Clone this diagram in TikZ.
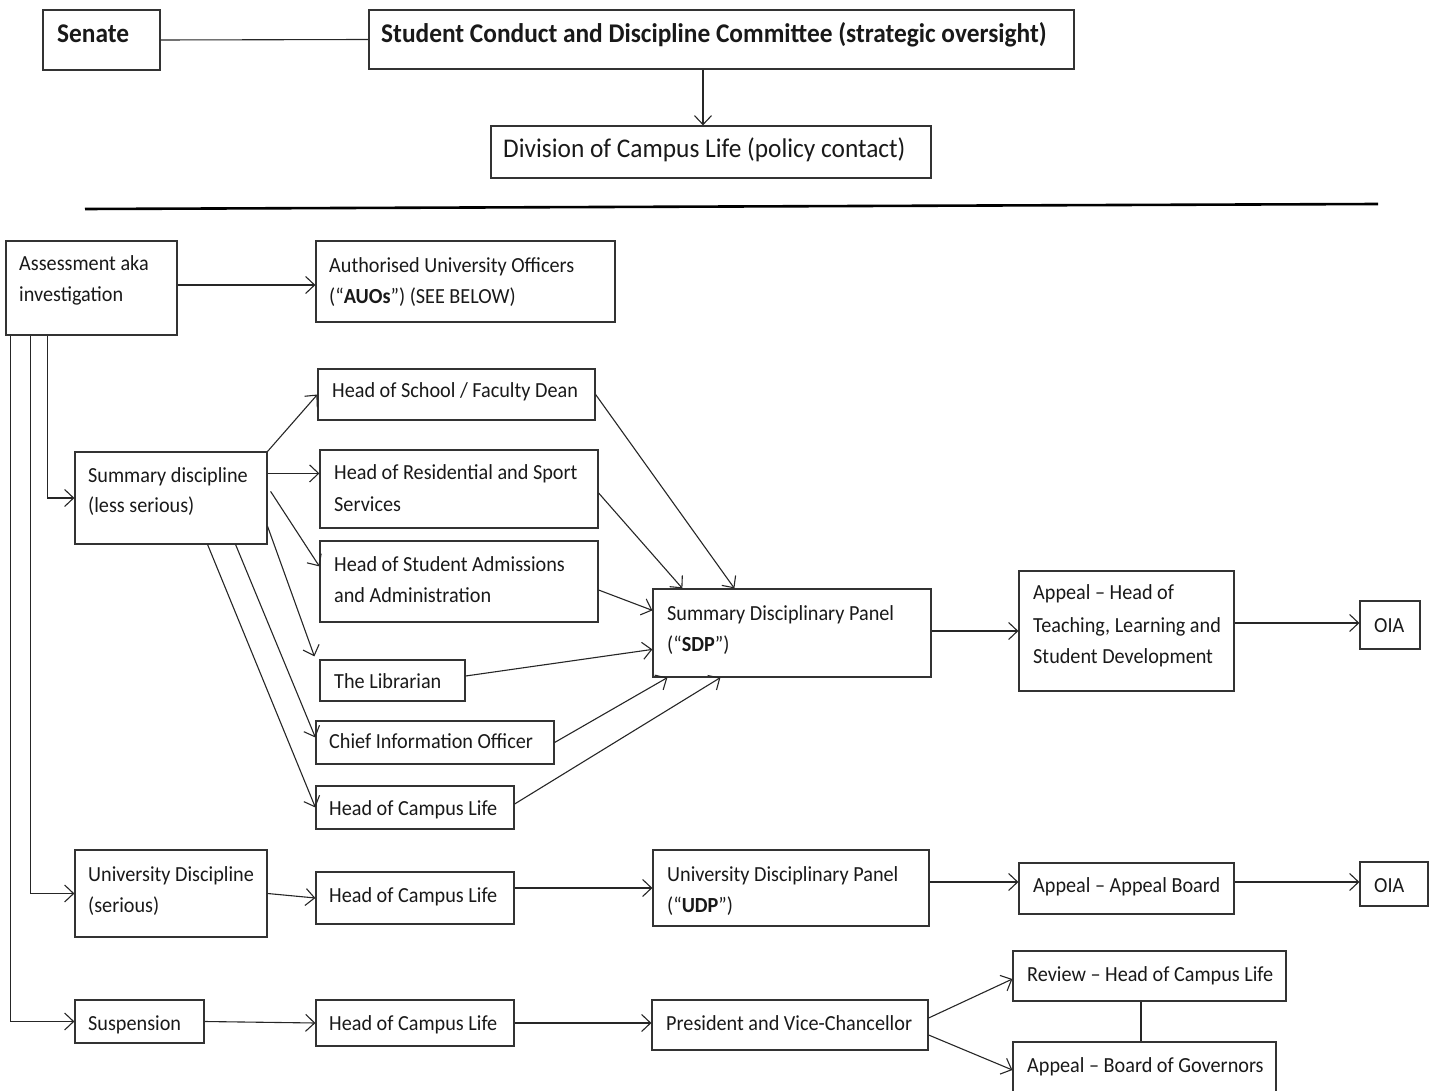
\documentclass[tikz,border=0pt]{standalone}
\usepackage{fontspec}
\setmainfont{Carlito}[FakeStretch=0.94]
\usetikzlibrary{arrows.meta,fit}
\begin{document}
\begin{tikzpicture}[x=1pt,y=-1pt,
  box/.style={draw=black!80, line width=1.2pt, inner sep=0pt, fit={#1}},
  ln/.style={draw=black!85, line width=1.1pt},
  arr/.style={ln, -{Straight Barb[length=9pt,width=17pt,line width=1.1pt]}},
  txt/.style={anchor=base west, inner sep=0pt, text=black!90, font=\fontsize{21.5}{26}\selectfont},
  big/.style={txt, font=\fontsize{27}{32}\selectfont}]
\useasboundingbox (0,0) rectangle (1436,1091);
% boxes
\node[box={(43,10)(160,70)}] (senate) {};
\node[box={(369,10)(1074,69)}] (scdc) {};
\node[box={(491,126)(931,178)}] (div) {};
\node[box={(6,241)(177,335)}] (asmt) {};
\node[box={(316,241)(615,322)}] (auo) {};
\node[box={(75,452)(267,544)}] (sd) {};
\node[box={(318,369)(595,420)}] (hos) {};
\node[box={(320,450)(598,528)}] (res) {};
\node[box={(320,541)(598,622)}] (adm) {};
\node[box={(320,660)(465,701)}] (lib) {};
\node[box={(316,721)(554,764)}] (cio) {};
\node[box={(316,786)(514,829)}] (hcl1) {};
\node[box={(653,589)(931,677)}] (sdp) {};
\node[box={(1019,571)(1234,691)}] (apth) {};
\node[box={(1360,601)(1420,649)}] (oia1) {};
\node[box={(75,850)(267,937)}] (ud) {};
\node[box={(316,872)(514,924)}] (hcl2) {};
\node[box={(653,850)(929,926)}] (udp) {};
\node[box={(1019,863)(1234,914)}] (ab) {};
\node[box={(1360,862)(1428,906)}] (oia2) {};
\node[box={(75,1000)(204,1043)}] (susp) {};
\node[box={(316,1000)(514,1046)}] (hcl3) {};
\node[box={(652,1000)(928,1050)}] (pvc) {};
\node[box={(1013,951)(1286,1001)}] (rev) {};
\node[box={(1013,1042)(1276,1098)}] (abg) {};
% texts
\node[big] (tsen) at (57,43) {\textbf{Senate}};
\node[big] (tscdc) at (381,43) {\textbf{Student Conduct and Discipline Committee (strategic oversight)}};
\node[big] (tdiv) at (503,158) {Division of Campus Life (policy contact)};
\node[txt] (tas1) at (19,271) {Assessment aka};
\node[txt] (tas2) at (19,302) {investigation};
\node[txt] (tau1) at (329,273) {Authorised University Officers};
\node[txt] (tau2) at (329,304) {(“\textbf{AUOs}”) (SEE BELOW)};
\node[txt] (tsd1) at (88,482) {Summary discipline};
\node[txt] (tsd2) at (88,512) {(less serious)};
\node[txt] (thos) at (332,398) {Head of School / Faculty Dean};
\node[txt] (tres1) at (334,479) {Head of Residential and Sport};
\node[txt] (tres2) at (334,511) {Services};
\node[txt] (tadm1) at (334,571) {Head of Student Admissions};
\node[txt] (tadm2) at (334,602) {and Administration};
\node[txt] (tlib) at (334,688) {The Librarian};
\node[txt] (tcio) at (329,748) {Chief Information Officer};
\node[txt] (thcl1) at (329,815) {Head of Campus Life};
\node[txt] (tsdp1) at (667,620) {Summary Disciplinary Panel};
\node[txt] (tsdp2) at (667,651) {(“\textbf{SDP}”)};
\node[txt] (tap1) at (1033,599) {Appeal -- Head of};
\node[txt] (tap2) at (1033,632) {Teaching, Learning and};
\node[txt] (tap3) at (1033,663) {Student Development};
\node[txt] (toia1) at (1374,632) {OIA};
\node[txt] (tud1) at (88,881) {University Discipline};
\node[txt] (tud2) at (88,912) {(serious)};
\node[txt] (thcl2) at (329,902) {Head of Campus Life};
\node[txt] (tudp1) at (667,881) {University Disciplinary Panel};
\node[txt] (tudp2) at (667,912) {(“\textbf{UDP}”)};
\node[txt] (tab) at (1033,892) {Appeal -- Appeal Board};
\node[txt] (toia2) at (1374,892) {OIA};
\node[txt] (tsusp) at (88,1030) {Suspension};
\node[txt] (thcl3) at (329,1030) {Head of Campus Life};
\node[txt] (tpvc) at (666,1030) {President and Vice-Chancellor};
\node[txt] (trev) at (1027,981) {Review -- Head of Campus Life};
\node[txt] (tabg) at (1027,1072) {Appeal -- Board of Governors};
% rule
\draw[line width=2.6pt] (85,209) -- (1378,204);
% connectors
\draw[ln] (senate.east) -- (scdc.west);
\coordinate (c1) at ([xshift=-18.5pt]scdc.south);
\draw[arr] (c1) -- (c1 |- div.north);
\coordinate (c2) at ([yshift=3pt]asmt.east);
\draw[arr] (c2) -- (c2 -| auo.west);
\coordinate (v1) at ([xshift=42pt]asmt.south west);
\coordinate (v2) at ([xshift=25pt]asmt.south west);
\coordinate (v3) at ([xshift=5pt]asmt.south west);
\draw[arr] (v1) |- (sd.west);
\draw[arr] (v2) |- (ud.west);
\draw[arr] (v3) |- (susp.west);
\draw[arr] (sd.north east) -- (hos.west);
\coordinate (c3) at ([yshift=-22pt]sd.north east);
\draw[arr] (c3) -- (c3 -| res.west);
\draw[arr] ([xshift=3pt,yshift=-40pt]sd.north east) -- ([yshift=-26pt]adm.north west);
\draw[arr] ([yshift=-75pt]sd.north east) -- ([xshift=-5pt,yshift=3pt]lib.north west);
\draw[arr] ([xshift=-32pt]sd.south east) -- ([yshift=5pt]cio.west);
\draw[arr] ([xshift=-60pt]sd.south east) -- (hcl1.west);
\draw[arr] (hos.east) -- ([xshift=82pt]sdp.north west);
\draw[arr] ([yshift=-4pt]res.east) -- ([xshift=30pt]sdp.north west);
\draw[arr] ([yshift=-8.5pt]adm.east) -- ([yshift=-22pt]sdp.north west);
\draw[arr] ([yshift=4.5pt]lib.east) -- ([yshift=-61pt]sdp.north west);
\draw[arr] (cio.east) -- ([xshift=15pt]sdp.south west);
\draw[arr] ([yshift=3.5pt]hcl1.east) -- ([xshift=68pt]sdp.south west);
\coordinate (c4) at ([yshift=2pt]sdp.east);
\draw[arr] (c4) -- (c4 -| apth.west);
\coordinate (c5) at ([yshift=2pt]oia1.west);
\draw[arr] (c5 -| apth.east) -- (c5);
\draw[arr] (ud.east) -- (hcl2.west);
\draw[arr] (udp.west -| hcl2.east) -- (udp.west);
\coordinate (c6) at ([yshift=6pt]udp.east);
\draw[arr] (c6) -- (c6 -| ab.west);
\coordinate (c7) at ([yshift=2pt]oia2.west);
\draw[arr] (c7 -| ab.east) -- (c7);
\draw[arr] (susp.east) -- (hcl3.west);
\draw[arr] (hcl3.east) -- (hcl3.east -| pvc.west);
\draw[arr] ([yshift=7pt]pvc.east) -- ([yshift=-3pt]rev.west);
\draw[arr] ([yshift=-10pt]pvc.east) -- (abg.west);
\coordinate (c8) at ([xshift=-8.5pt]rev.south);
\draw[ln] (c8) -- (c8 |- abg.north);
\end{tikzpicture}
\end{document}
